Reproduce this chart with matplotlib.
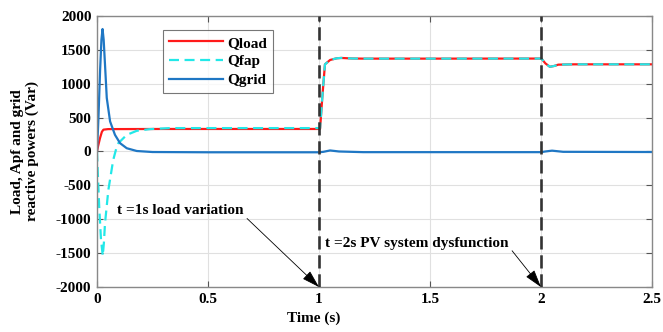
import numpy as np
import matplotlib
matplotlib.use("Agg")
import matplotlib.pyplot as plt

# values (time in s, reactive power in Var)
t_load = [0.0, 0.005, 0.0135, 0.022, 0.029, 0.05, 0.3, 1.0, 1.005, 1.015, 1.027,
          1.05, 1.08, 1.1, 1.15, 1.2, 1.5, 2.0, 2.003, 2.02, 2.04, 2.06, 2.078, 2.15, 2.5]
q_load = [0, 80, 196, 290, 322, 330, 332, 332, 335, 800, 1286,
          1350, 1375, 1380, 1372, 1370, 1370, 1371, 1368, 1300, 1250, 1262, 1281, 1286, 1286]

t_fap = [0.0, 0.004, 0.010, 0.018, 0.026, 0.031, 0.036, 0.051, 0.073, 0.089, 0.096,
         0.134, 0.179, 0.239, 0.329, 0.5, 1.0, 1.005, 1.015, 1.027, 1.05, 1.08, 1.1,
         1.15, 1.2, 1.5, 2.0, 2.003, 2.02, 2.04, 2.06, 2.078, 2.15, 2.5]
q_fap = [0, -350, -820, -1300, -1540, -1350, -1063, -572, -126, 71, 122,
         245, 305, 330, 345, 345, 345, 348, 800, 1286, 1350, 1375, 1380,
         1372, 1370, 1370, 1371, 1368, 1300, 1250, 1262, 1281, 1286, 1286]

t_grid = [0.0, 0.006, 0.014, 0.020, 0.025, 0.030, 0.036, 0.044, 0.059, 0.081, 0.104,
          0.134, 0.179, 0.25, 0.5, 1.0, 1.02, 1.05, 1.09, 1.2, 2.0, 2.02, 2.05, 2.1, 2.5]
q_grid = [0, 450, 1200, 1650, 1807, 1650, 1286, 790, 443, 245, 122,
          48, 7, -8, -12, -12, -5, 15, 0, -10, -10, 0, 12, -5, -8]

events = [1.0, 2.0]

plt.rcParams["font.family"] = ["Liberation Serif", "DejaVu Serif"]
plt.rcParams["font.weight"] = "bold"
plt.rcParams["font.size"] = 11
plt.rcParams["axes.unicode_minus"] = False

fig = plt.figure(figsize=(6.63, 3.32), dpi=100)
ax = fig.add_axes([0.1463, 0.1355, 0.837, 0.8165])

ax.plot(t_load, q_load, color="#ff1a1a", linewidth=1.6, label="Qload")
ax.plot(t_fap, q_fap, color="#22e8e8", linewidth=1.6, linestyle=(0, (4.5, 2.5)), label="Qfap")
ax.plot(t_grid, q_grid, color="#1f77c4", linewidth=1.6, label="Qgrid")

for te in events:
    ax.axvline(te, color="#333333", linewidth=1.9, linestyle=(0, (5, 2.2)), zorder=5)

ax.text(0.09, -870, "t =1s load variation", fontsize=11, fontweight="bold", va="center")
ax.annotate("", xy=(1.0, -2000), xytext=(0.676, -989),
            arrowprops=dict(arrowstyle="-|>,head_length=1.0,head_width=0.3",
                            color="black", linewidth=0.6, shrinkA=0, shrinkB=0),
            zorder=6)
ax.text(1.027, -1360, "t =2s PV system dysfunction", fontsize=11, fontweight="bold", va="center")
ax.annotate("", xy=(2.0, -2000), xytext=(1.87, -1465),
            arrowprops=dict(arrowstyle="-|>,head_length=1.0,head_width=0.3",
                            color="black", linewidth=0.6, shrinkA=0, shrinkB=0),
            zorder=6)

ax.set_xlim(0, 2.5)
ax.set_ylim(-2000, 2000)
ax.set_xticks([0, 0.5, 1, 1.5, 2, 2.5])
ax.set_xticklabels(["0", "0.5", "1", "1.5", "2", "2.5"])
ax.set_yticks(np.arange(-2000, 2001, 500))
ax.grid(True, color="#e0e0e0", linewidth=0.8)
ax.tick_params(direction="in", top=True, right=True, length=4, color="#555555", pad=4)
for s in ax.spines.values():
    s.set_color("#888888")
    s.set_linewidth(1.0)

ax.set_xlabel("Time (s)", fontweight="bold")
ax.xaxis.set_label_coords(0.39, -0.09)
ax.set_ylabel("Load, Apf and grid\nreactive powers (Var)", fontweight="bold", linespacing=1.1)
ax.yaxis.set_label_coords(-0.105, 0.5)

leg = ax.legend(loc="upper left", bbox_to_anchor=(0.119, 0.948), borderaxespad=0,
                frameon=True, fancybox=False, edgecolor="#555555", handlelength=3.5,
                borderpad=0.4, labelspacing=0.32, handletextpad=0.3,
                prop={"weight": "bold", "size": 11})
leg.get_frame().set_linewidth(0.8)

fig.savefig("out.png", dpi=100)
